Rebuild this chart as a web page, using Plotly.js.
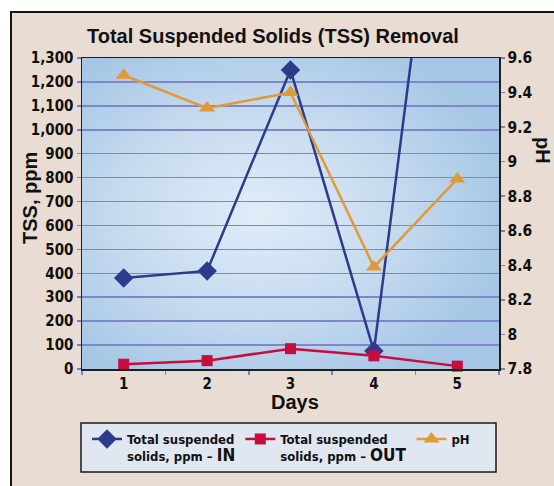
<!DOCTYPE html>
<html>
<head>
<meta charset="utf-8">
<script src="https://cdn.plot.ly/plotly-3.0.1.min.js"></script>
<style>
html,body{margin:0;padding:0;background:#fff;overflow:hidden;width:554px;height:486px;}
#frame{position:absolute;left:10px;top:11px;width:560px;height:490px;border:2px solid #151515;background:#e9dcd3;}
#chart{position:absolute;left:0;top:0;width:554px;height:486px;}
</style>
</head>
<body>
<div id="frame"></div>
<div id="chart"></div>
<script>
const days = ['1', '2', '3', '4', '5'];
const tssIn = [380, 410, 1250, 75, 2800];
const tssOut = [20, 35, 85, 55, 12];
const ph = [9.50, 9.31, 9.40, 8.39, 8.90];
const leftTicks = [0,100,200,300,400,500,600,700,800,900,1000,1100,1200,1300];
const rightTicks = [7.8,8,8.2,8.4,8.6,8.8,9,9.2,9.4,9.6];

const narrow = 'DejaVu Sans Condensed, Liberation Sans Narrow, Arial Narrow, sans-serif';
const sans = 'Liberation Sans, Arial, Helvetica, sans-serif';

const grad = "<svg xmlns='http://www.w3.org/2000/svg' width='200' height='200' preserveAspectRatio='none'><defs><radialGradient id='g' cx='0.42' cy='0.5' r='0.62'><stop offset='0' stop-color='#e0edf9'/><stop offset='0.5' stop-color='#c8dcf0'/><stop offset='1' stop-color='#a5c6e5'/></radialGradient></defs><rect width='200' height='200' fill='url(#g)'/></svg>";
const gradUri = 'data:image/svg+xml;charset=utf-8,' + encodeURIComponent(grad);

const traces = [
  {x: days, y: tssIn, type: 'scatter', mode: 'lines+markers', name: "Total suspended<br>solids, ppm – <span style='font-size:17px'>IN</span>",
   line: {color: '#2c3b8c', width: 2.5}, marker: {symbol: 'diamond', size: 15, color: '#2c3b8c'}, yaxis: 'y'},
  {x: days, y: tssOut, type: 'scatter', mode: 'lines+markers', name: "Total suspended<br>solids, ppm – <span style='font-size:17px'>OUT</span>",
   line: {color: '#c70c40', width: 2.5}, marker: {symbol: 'square', size: 11, color: '#c70c40'}, yaxis: 'y', cliponaxis: false},
  {x: days, y: ph, type: 'scatter', mode: 'lines+markers', name: 'pH',
   line: {color: '#e29a36', width: 2.5}, marker: {symbol: 'triangle-up', size: 14, color: '#e29a36'}, yaxis: 'y2'}
];

const L = 82, T = 58, R = 499, B = 369;
const W = R - L, H = B - T;
const px = v => (v - L) / W;
const py = v => (B - v) / H;

const layout = {
  width: 554, height: 486,
  margin: {l: L, r: 554 - R, t: T, b: 486 - B, pad: 0, autoexpand: false},
  paper_bgcolor: 'rgba(0,0,0,0)',
  plot_bgcolor: '#bcd4ec',
  showlegend: true,
  xaxis: {
    type: 'category', range: [-0.5, 4.5], tickson: 'boundaries',
    ticks: 'outside', ticklen: 4, tickcolor: '#7b80c2', tickwidth: 1.5,
    showline: true, linecolor: '#1e1e1e', linewidth: 1.5, mirror: true,
    showgrid: false, zeroline: false,
    tickfont: {family: narrow, size: 15, color: '#111', weight: 'bold'}
  },
  yaxis: {
    range: [0, 1300], tickvals: leftTicks, tickformat: ',d',
    ticks: 'outside', ticklen: 4, tickcolor: '#7b80c2', tickwidth: 1.5,
    showline: true, linecolor: '#1e1e1e', linewidth: 1.5, mirror: true,
    showgrid: true, gridcolor: '#8087c8', gridwidth: 1.5, zeroline: false,
    tickfont: {family: narrow, size: 15, color: '#111', weight: 'bold'}
  },
  yaxis2: {
    overlaying: 'y', side: 'right', range: [7.8, 9.6], tickvals: rightTicks,
    ticks: 'outside', ticklen: 4, tickcolor: '#7b80c2', tickwidth: 1.5,
    showline: true, linecolor: '#1e1e1e', linewidth: 1.5,
    showgrid: false, zeroline: false,
    tickfont: {family: narrow, size: 15.5, color: '#111', weight: 'bold'}
  },
  legend: {
    orientation: 'h', x: px(87), y: py(424), xanchor: 'left', yanchor: 'top',
    bgcolor: 'rgba(0,0,0,0)', borderwidth: 0, valign: 'top',
    font: {family: narrow, size: 13, color: '#111', weight: 'bold'},
    itemwidth: 30, tracegroupgap: 0
  },
  images: [{source: gradUri, xref: 'paper', yref: 'paper', x: 0, y: 1, sizex: 1, sizey: 1,
            sizing: 'stretch', layer: 'below', xanchor: 'left', yanchor: 'top'}],
  shapes: [{type: 'rect', xref: 'paper', yref: 'paper', x0: px(81), x1: px(496), y0: py(423), y1: py(472),
            line: {color: '#1a1a1a', width: 1.5}, fillcolor: '#e1e7f1', layer: 'below'}],
  annotations: [
    {text: 'Total Suspended Solids (TSS) Removal', xref: 'paper', yref: 'paper', x: px(273), y: py(36),
     showarrow: false, xanchor: 'center', yanchor: 'middle', font: {family: sans, size: 20, color: '#111', weight: 'bold'}},
    {text: 'TSS, ppm', xref: 'paper', yref: 'paper', x: px(30), y: py(198), textangle: -90,
     showarrow: false, xanchor: 'center', yanchor: 'middle', font: {family: sans, size: 20, color: '#111', weight: 'bold'}},
    {text: 'pH', xref: 'paper', yref: 'paper', x: px(543), y: py(150), textangle: 90,
     showarrow: false, xanchor: 'center', yanchor: 'middle', font: {family: sans, size: 20, color: '#111', weight: 'bold'}},
    {text: 'Days', xref: 'paper', yref: 'paper', x: px(295), y: py(402),
     showarrow: false, xanchor: 'center', yanchor: 'middle', font: {family: sans, size: 20, color: '#111', weight: 'bold'}}
  ]
};

Plotly.newPlot('chart', traces, layout, {displayModeBar: false, staticPlot: true});
</script>
</body>
</html>
